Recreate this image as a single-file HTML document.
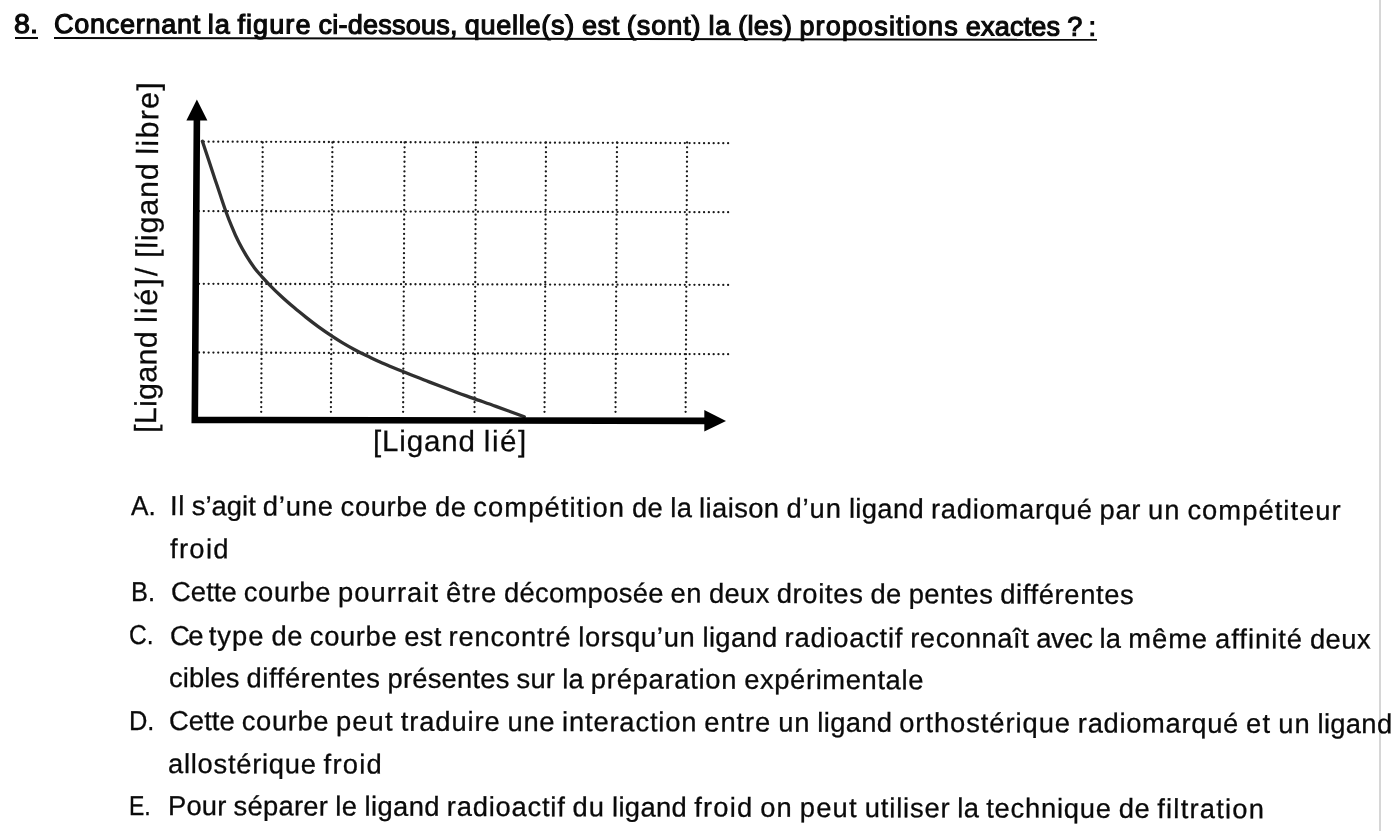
<!DOCTYPE html>
<html lang="fr">
<head>
<meta charset="utf-8">
<title>Question 8</title>
<style>
html,body{margin:0;padding:0;}
body{width:1393px;height:831px;overflow:hidden;background:#fff;position:relative;
 font-family:"Liberation Sans",sans-serif;color:#0a0a0a;}
#edgeline{position:absolute;left:1379px;top:0;width:2px;height:831px;background:#d6d6d6;}
.t{position:absolute;white-space:nowrap;font-size:27.3px;line-height:30px;height:30px;
 transform-origin:0 24px;margin:0;padding:0;}
h1.t{font-weight:normal;font-size:27px;-webkit-text-stroke:1.15px #0a0a0a;transform-origin:0 24.36px;}
.ul{position:absolute;height:2px;background:#0a0a0a;transform-origin:0 0;transform:rotate(0.1deg);}
ol,li{list-style:none;margin:0;padding:0;}
svg{position:absolute;left:0;top:0;filter:blur(0.3px);}
.gl{font-size:30.5px;}
li .t{-webkit-text-stroke:0.3px #0a0a0a;transform-origin:0 24.46px;}
.w{display:inline-block;white-space:pre;}
.gl{-webkit-text-stroke:0.25px #0a0a0a;}
</style>
</head>
<body>
<div id="edgeline"></div>
<h1 class="t" id="num" style="left:14.1px;top:8.54px;transform:rotate(0.15deg) scaleX(1.06);">8.</h1>
<h1 class="t" id="ttl" style="left:54.1px;top:8.64px;transform:rotate(0.15deg);"><span class="w" style="width:153.82px;letter-spacing:0.73px">Concernant </span><span class="w" style="width:29.64px;letter-spacing:0.84px">la </span><span class="w" style="width:80.99px;letter-spacing:1.09px">figure </span><span class="w" style="width:146.27px;letter-spacing:0.25px">ci-dessous, </span><span class="w" style="width:117.24px;letter-spacing:0.75px">quelle(s) </span><span class="w" style="width:44.93px;letter-spacing:0.65px">est </span><span class="w" style="width:81.64px;letter-spacing:0.95px">(sont) </span><span class="w" style="width:29.63px;letter-spacing:0.84px">la </span><span class="w" style="width:61.31px;letter-spacing:0.37px">(les) </span><span class="w" style="width:166.40px;letter-spacing:1.16px">propositions </span><span class="w" style="width:101.50px;letter-spacing:0.21px">exactes </span><span class="w" style="width:21.16px;letter-spacing:-0.81px">? </span><span class="w" style="letter-spacing:0.96px">:</span></h1>
<div class="ul" style="left:15.1px;top:36.6px;width:23.4px;"></div>
<div class="ul" style="left:54.3px;top:36.7px;width:1043.2px;"></div>

<svg width="1393" height="831" viewBox="0 0 1393 831">
 <g stroke="#1a1a1a" stroke-width="2.3" stroke-dasharray="0.01 4.8" stroke-linecap="round" fill="none">
<line x1="199" y1="141.6" x2="730" y2="143.2"/>
<line x1="199" y1="211.1" x2="730" y2="212.2"/>
<line x1="199" y1="283.8" x2="730" y2="284.9"/>
<line x1="199" y1="352.5" x2="730" y2="354.2"/>
<line x1="262.7" y1="142.5" x2="261.2" y2="414"/>
<line x1="332.4" y1="142.5" x2="330.9" y2="414"/>
<line x1="404.6" y1="142.5" x2="403.1" y2="414"/>
<line x1="476.0" y1="142.5" x2="474.5" y2="414"/>
<line x1="546.0" y1="142.5" x2="544.5" y2="414"/>
<line x1="617.0" y1="142.5" x2="615.5" y2="414"/>
<line x1="687.1" y1="142.5" x2="685.6" y2="414"/>
 </g>
 <path d="M202.4 141.3C203.5 144.6 206.8 154.6 208.9 160.8C211.0 167.0 212.8 172.8 214.8 178.7C216.8 184.6 219.0 191.1 220.8 196.5C222.6 201.9 224.0 206.2 225.8 211.2C227.6 216.2 229.5 221.2 231.7 226.3C233.8 231.5 236.2 237.1 238.7 242.1C241.2 247.1 244.0 251.9 246.6 256.2C249.2 260.5 251.8 264.4 254.5 267.9C257.1 271.4 259.9 274.4 262.5 277.4C265.1 280.3 266.9 282.3 270.2 285.6C273.4 288.9 278.0 293.3 282.0 297.0C286.0 300.7 290.1 304.2 294.1 307.6C298.1 311.0 302.1 314.2 306.1 317.4C310.1 320.6 313.9 323.5 318.2 326.6C322.5 329.7 328.0 333.5 332.0 336.2C336.0 338.9 338.5 340.4 342.2 342.6C345.9 344.8 350.3 347.3 354.3 349.5C358.3 351.7 362.3 353.7 366.3 355.6C370.3 357.6 374.3 359.4 378.3 361.2C382.3 363.0 386.4 364.7 390.4 366.4C394.4 368.1 397.5 369.3 402.4 371.3C407.3 373.3 415.4 376.5 420.0 378.3C424.6 380.1 423.7 379.8 429.7 382.1C435.7 384.4 448.9 389.5 456.2 392.2C463.5 394.9 466.8 396.0 473.4 398.4C480.0 400.8 487.4 403.3 495.9 406.4C504.4 409.4 519.6 415.0 524.3 416.7" fill="none" stroke="#303030" stroke-width="3.3" stroke-linecap="round"/>
 <polyline points="196.9,118 194.8,419.9 706,420.9" fill="none" stroke="#000" stroke-width="6.6" stroke-linejoin="miter"/>
 <polygon points="196.9,99.5 186.4,120.5 207.4,120.5" fill="#000"/>
 <polygon points="726,420.9 704.3,410 704.3,431.6" fill="#000"/>
</svg>

<div class="t gl" id="yl" style="left:153.8px;top:409.0px;transform:rotate(-89.6deg);"><span class="w" style="width:109.91px;letter-spacing:0.28px">[Ligand </span><span class="w" style="width:65.14px;letter-spacing:1.96px">lié]/ </span><span class="w" style="width:103.28px;letter-spacing:0.79px">[ligand </span><span class="w" style="letter-spacing:1.28px">libre]</span></div>
<div class="t gl" id="xl" style="left:373.2px;top:426.3px;font-size:29.5px;transform:rotate(0.1deg);"><span class="w" style="width:110.71px;letter-spacing:0.86px">[Ligand </span><span class="w" style="letter-spacing:1.62px">lié]</span></div>

<ol>
<li><span class="t" id="mA" style="left:130.9px;top:491.34px;transform:rotate(0.17deg) scaleX(0.9583);">A.</span>
<span class="t" id="a1" style="left:170.2px;top:491.44px;transform:rotate(0.24deg);"><span class="w" style="width:21.78px;letter-spacing:0.58px">Il </span><span class="w" style="width:71.04px;letter-spacing:0.06px">s’agit </span><span class="w" style="width:77.79px;letter-spacing:0.81px">d’une </span><span class="w" style="width:94.33px;letter-spacing:0.65px">courbe </span><span class="w" style="width:38.44px;letter-spacing:0.56px">de </span><span class="w" style="width:158.55px;letter-spacing:1.09px">compétition </span><span class="w" style="width:38.44px;letter-spacing:0.55px">de </span><span class="w" style="width:28.77px;letter-spacing:0.28px">la </span><span class="w" style="width:87.33px;letter-spacing:0.43px">liaison </span><span class="w" style="width:62.47px;letter-spacing:0.98px">d’un </span><span class="w" style="width:82.08px;letter-spacing:0.38px">ligand </span><span class="w" style="width:168.56px;letter-spacing:0.76px">radiomarqué </span><span class="w" style="width:48.60px;letter-spacing:0.73px">par </span><span class="w" style="width:39.30px;letter-spacing:0.99px">un </span><span class="w" style="letter-spacing:1.06px">compétiteur</span></span>
<span class="t" id="a2" style="left:169.5px;top:534.04px;transform:rotate(0.2deg);"><span class="w" style="letter-spacing:1.34px">froid</span></span></li>
<li><span class="t" id="mB" style="left:130.7px;top:576.84px;transform:rotate(0.17deg) scaleX(0.9285);">B.</span>
<span class="t" id="b1" style="left:170.5px;top:576.94px;transform:rotate(0.175deg);"><span class="w" style="width:72.83px;letter-spacing:0.13px">Cette </span><span class="w" style="width:94.09px;letter-spacing:0.61px">courbe </span><span class="w" style="width:108.19px;letter-spacing:1.09px">pourrait </span><span class="w" style="width:57.90px;letter-spacing:0.98px">être </span><span class="w" style="width:166.64px;letter-spacing:0.34px">décomposée </span><span class="w" style="width:38.34px;letter-spacing:0.52px">en </span><span class="w" style="width:67.76px;letter-spacing:0.41px">deux </span><span class="w" style="width:93.74px;letter-spacing:0.70px">droites </span><span class="w" style="width:38.34px;letter-spacing:0.52px">de </span><span class="w" style="width:91.41px;letter-spacing:0.42px">pentes </span><span class="w" style="letter-spacing:0.66px">différentes</span></span></li>
<li><span class="t" id="mC" style="left:129.2px;top:620.44px;transform:rotate(0.17deg) scaleX(0.8982);">C.</span>
<span class="t" id="c1" style="left:170.0px;top:620.54px;transform:rotate(0.17deg);"><span class="w" style="width:38.70px;letter-spacing:-1.58px">Ce </span><span class="w" style="width:62.72px;letter-spacing:1.04px">type </span><span class="w" style="width:38.46px;letter-spacing:0.56px">de </span><span class="w" style="width:94.39px;letter-spacing:0.66px">courbe </span><span class="w" style="width:44.30px;letter-spacing:0.31px">est </span><span class="w" style="width:129.66px;letter-spacing:0.82px">rencontré </span><span class="w" style="width:124.25px;letter-spacing:0.72px">lorsqu’un </span><span class="w" style="width:82.13px;letter-spacing:0.39px">ligand </span><span class="w" style="width:125.63px;letter-spacing:0.79px">radioactif </span><span class="w" style="width:126.12px;letter-spacing:0.59px">reconnaît </span><span class="w" style="width:63.16px;letter-spacing:-0.37px">avec </span><span class="w" style="width:28.78px;letter-spacing:0.29px">la </span><span class="w" style="width:86.81px;letter-spacing:1.00px">même </span><span class="w" style="width:94.96px;letter-spacing:1.01px">affinité </span><span class="w" style="letter-spacing:0.46px">deux</span></span>
<span class="t" id="c2" style="left:169.2px;top:663.14px;transform:rotate(0.17deg);"><span class="w" style="width:77.39px;letter-spacing:0.11px">cibles </span><span class="w" style="width:141.13px;letter-spacing:0.66px">différentes </span><span class="w" style="width:128.95px;letter-spacing:0.24px">présentes </span><span class="w" style="width:45.76px;letter-spacing:0.30px">sur </span><span class="w" style="width:28.68px;letter-spacing:0.25px">la </span><span class="w" style="width:153.33px;letter-spacing:0.75px">préparation </span><span class="w" style="letter-spacing:0.64px">expérimentale</span></span></li>
<li><span class="t" id="mD" style="left:129.4px;top:705.94px;transform:rotate(0.17deg) scaleX(0.9307);">D.</span>
<span class="t" id="d1" style="left:168.6px;top:706.04px;transform:rotate(0.15deg);"><span class="w" style="width:72.84px;letter-spacing:0.13px">Cette </span><span class="w" style="width:94.10px;letter-spacing:0.62px">courbe </span><span class="w" style="width:64.76px;letter-spacing:1.17px">peut </span><span class="w" style="width:106.88px;letter-spacing:0.92px">traduire </span><span class="w" style="width:54.47px;letter-spacing:0.66px">une </span><span class="w" style="width:142.24px;letter-spacing:0.85px">interaction </span><span class="w" style="width:73.92px;letter-spacing:0.95px">entre </span><span class="w" style="width:39.20px;letter-spacing:0.94px">un </span><span class="w" style="width:81.88px;letter-spacing:0.35px">ligand </span><span class="w" style="width:178.61px;letter-spacing:0.95px">orthostérique </span><span class="w" style="width:168.13px;letter-spacing:0.72px">radiomarqué </span><span class="w" style="width:32.33px;letter-spacing:1.31px">et </span><span class="w" style="width:39.20px;letter-spacing:0.94px">un </span><span class="w" style="letter-spacing:0.35px">ligand</span></span>
<span class="t" id="d2" style="left:168.3px;top:749.24px;transform:rotate(0.17deg);"><span class="w" style="width:155.59px;letter-spacing:0.75px">allostérique </span><span class="w" style="letter-spacing:1.28px">froid</span></span></li>
<li><span class="t" id="mE" style="left:128.7px;top:791.34px;transform:rotate(0.17deg) scaleX(0.8432);">E.</span>
<span class="t" id="e1" style="left:168.2px;top:791.44px;transform:rotate(0.17deg);"><span class="w" style="width:65.48px;letter-spacing:0.21px">Pour </span><span class="w" style="width:101.76px;letter-spacing:0.32px">séparer </span><span class="w" style="width:29.38px;letter-spacing:0.58px">le </span><span class="w" style="width:82.22px;letter-spacing:0.40px">ligand </span><span class="w" style="width:125.77px;letter-spacing:0.80px">radioactif </span><span class="w" style="width:39.37px;letter-spacing:1.01px">du </span><span class="w" style="width:82.22px;letter-spacing:0.40px">ligand </span><span class="w" style="width:66.16px;letter-spacing:1.22px">froid </span><span class="w" style="width:39.43px;letter-spacing:1.04px">on </span><span class="w" style="width:65.03px;letter-spacing:1.23px">peut </span><span class="w" style="width:92.64px;letter-spacing:0.85px">utiliser </span><span class="w" style="width:28.81px;letter-spacing:0.30px">la </span><span class="w" style="width:132.55px;letter-spacing:0.80px">technique </span><span class="w" style="width:38.51px;letter-spacing:0.58px">de </span><span class="w" style="letter-spacing:1.24px">filtration</span></span></li>
</ol>
</body>
</html>
